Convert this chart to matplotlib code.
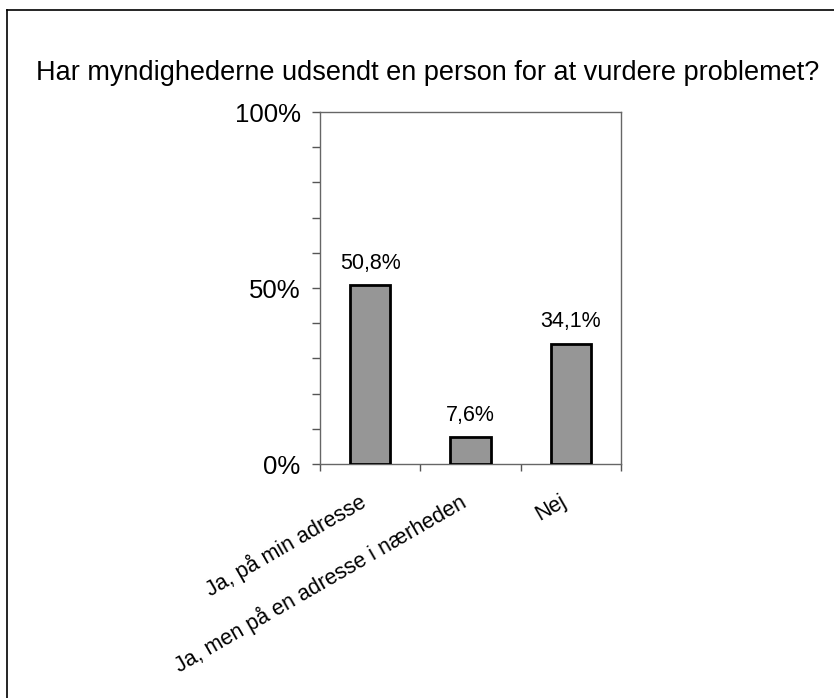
import matplotlib
matplotlib.use("Agg")
import matplotlib.pyplot as plt
from matplotlib.lines import Line2D

plt.rcParams['font.family'] = ['Liberation Sans', 'DejaVu Sans']

title = "Har myndighederne udsendt en person for at vurdere problemet?"
categories = ["Ja, på min adresse", "Ja, men på en adresse i nærheden", "Nej"]
values = [50.8, 7.6, 34.1]
value_labels = ["50,8%", "7,6%", "34,1%"]
y_ticks = [0, 50, 100]
y_tick_labels = ["0%", "50%", "100%"]

fig = plt.figure(figsize=(8.34, 6.98), dpi=100)

# frame round the picture (only top and left show)
fig.add_artist(Line2D([7/834, 7/834], [0, 1 - 10/698], transform=fig.transFigure, color="black", lw=1.2))
fig.add_artist(Line2D([7/834, 1], [1 - 10/698, 1 - 10/698], transform=fig.transFigure, color="black", lw=1.2))

ax = fig.add_axes([320/834, 1 - 464/698, 301/834, 352/698])

x = list(range(len(categories)))
ax.bar(x, values, width=0.4, color="#969696", edgecolor="black", linewidth=2, zorder=3)

for xi, v, lab in zip(x, values, value_labels):
    ax.annotate(lab, (xi, v), xytext=(0, 12), textcoords="offset points",
                ha="center", va="baseline", fontsize=15.5)

ax.set_xlim(-0.5, 2.5)
ax.set_ylim(0, 100)

ax.set_yticks(y_ticks)
ax.set_yticklabels(y_tick_labels, fontsize=18.5)
ax.set_yticks(range(0, 101, 10), minor=True)
ax.tick_params(axis="y", which="both", direction="out", length=6, width=1, color="#555555", pad=8)

# category labels, rotated, right end hanging under each bar
ax.set_xticks(x)
ax.set_xticklabels([])
for xi, cat in zip(x, categories):
    ax.annotate(cat, (xi, 0), xycoords=("data", "axes fraction"), xytext=(-4.5, -26),
                textcoords="offset points", ha="right", va="center",
                rotation=30, rotation_mode="anchor", fontsize=15.5)
ax.set_xticks([-0.5, 0.5, 1.5, 2.5], minor=True)
ax.tick_params(axis="x", which="major", length=0)
ax.tick_params(axis="x", which="minor", direction="out", length=5, width=1, color="#555555")

for s in ax.spines.values():
    s.set_color("#666666")
    s.set_linewidth(1)

fig.text(428/834, 1 - 80/698, title, ha="center", va="baseline", fontsize=19.5)

plt.savefig("out.png", dpi=100)
